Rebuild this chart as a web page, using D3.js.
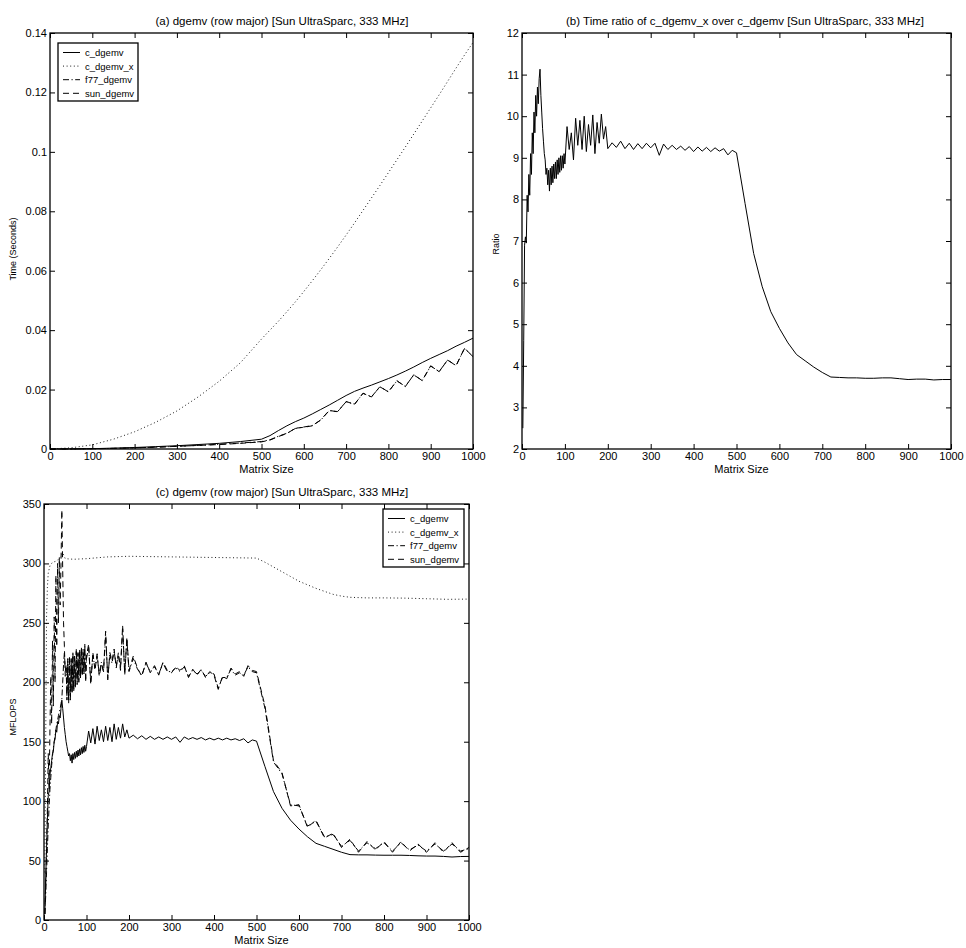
<!DOCTYPE html>
<html>
<head>
<meta charset="utf-8">
<script src="https://cdn.jsdelivr.net/npm/d3@7"></script>
<style>
  body { margin: 0; background: #fff; }
  svg { display: block; font-family: "Liberation Sans", Arial, Helvetica, sans-serif; }
</style>
</head>
<body>
<script>
// ---- data ----
const seriesNames = ["c_dgemv", "c_dgemv_x", "f77_dgemv", "sun_dgemv"];
const xTicks = [0, 100, 200, 300, 400, 500, 600, 700, 800, 900, 1000];
const timeTicks = [0, 0.02, 0.04, 0.06, 0.08, 0.1, 0.12, 0.14];
const timeTickLabels = ["0", "0.02", "0.04", "0.06", "0.08", "0.1", "0.12", "0.14"];
const ratioTicks = [2, 3, 4, 5, 6, 7, 8, 9, 10, 11, 12];
const mflopsTicks = [0, 50, 100, 150, 200, 250, 300, 350];

// panel (a) sizes
const sizesA = [0, 50, 100, 150, 200, 250, 300, 350, 400, 450, 500,
  520, 540, 560, 580, 600, 620, 640, 660, 680, 700, 720, 740, 760, 780, 800,
  820, 840, 860, 880, 900, 920, 940, 960, 980, 1000];
const timeC = [0, 0.00003, 0.0001, 0.0003, 0.0005, 0.0008, 0.0011, 0.0015, 0.0019, 0.0025, 0.0033,
  0.0045, 0.0062, 0.0078, 0.0092, 0.0104, 0.0118, 0.0133, 0.0148, 0.0164, 0.0180,
  0.0194, 0.0205, 0.0215, 0.0226, 0.0237, 0.0249, 0.0262, 0.0276, 0.0291, 0.0305,
  0.0318, 0.0331, 0.0346, 0.0359, 0.0373];
const timeCx = [0, 0.0004, 0.0014, 0.0033, 0.0058, 0.0090, 0.0128, 0.0175, 0.0228, 0.0290, 0.0370,
  0.0400, 0.0430, 0.0462, 0.0495, 0.0530, 0.0566, 0.0603, 0.0641, 0.0680, 0.0720,
  0.0761, 0.0803, 0.0845, 0.0887, 0.0930, 0.0973, 0.1016, 0.1060, 0.1104, 0.1148,
  0.1192, 0.1237, 0.1282, 0.1326, 0.1368];
const timeF77 = [0, 0.00002, 0.0001, 0.0002, 0.0004, 0.0006, 0.0009, 0.0012, 0.0016, 0.0020, 0.0025,
  0.0031, 0.0043, 0.0053, 0.0069, 0.0074, 0.0079, 0.0097, 0.0129, 0.0126, 0.0159,
  0.0151, 0.0187, 0.0176, 0.0209, 0.0193, 0.0229, 0.0211, 0.0249, 0.0231, 0.0279,
  0.0261, 0.0299, 0.0281, 0.0338, 0.0311];
const timeSun = [0, 0.00002, 0.0001, 0.0002, 0.0004, 0.0006, 0.0009, 0.0012, 0.0015, 0.0019, 0.0024,
  0.0030, 0.0042, 0.0052, 0.0070, 0.0073, 0.0078, 0.0098, 0.0130, 0.0125, 0.0160,
  0.0150, 0.0188, 0.0175, 0.0210, 0.0192, 0.0230, 0.0210, 0.0250, 0.0230, 0.0280,
  0.0260, 0.0300, 0.0280, 0.0340, 0.0310];

// panels (b) and (c) sizes
const sizes = [2, 4, 6, 8, 10, 12, 14, 16, 18, 20, 22, 24, 26, 28, 30, 32, 34, 36, 38, 40,
  42, 44, 46, 48, 50, 52, 54, 56, 58, 60, 62, 64, 66, 68, 70, 72, 74, 76, 78, 80,
  82, 84, 86, 88, 90, 92, 94, 96, 98, 100,
  105, 110, 115, 120, 125, 130, 135, 140, 145, 150, 155, 160, 165, 170, 175, 180, 185, 190, 195, 200,
  210, 220, 230, 240, 250, 260, 270, 280, 290, 300, 310, 320, 330, 340, 350, 360, 370, 380, 390, 400,
  410, 420, 430, 440, 450, 460, 470, 480, 490, 500,
  520, 540, 560, 580, 600, 620, 640, 660, 680, 700, 720, 740, 760, 780, 800,
  820, 840, 860, 880, 900, 920, 940, 960, 980, 1000];
const ratio = [2.5, 4.6, 6.9, 7.1, 6.95, 8.1, 7.7, 8.6, 8.1, 9.1, 8.6, 9.6, 9.1, 10.1, 9.6, 10.5, 10.0, 10.7, 10.3, 10.9,
  11.13, 10.5, 10.1, 9.7, 9.4, 9.1, 8.95, 8.6, 8.75, 8.35, 8.7, 8.2, 8.75, 8.35, 8.8, 8.4, 8.85, 8.5, 8.9, 8.5,
  8.95, 8.6, 9.0, 8.65, 9.05, 8.7, 9.05, 8.75, 9.1, 8.85,
  9.75, 9.2, 9.6, 8.95, 9.95, 9.3, 9.9, 9.2, 10.0, 9.15, 9.8, 9.3, 10.03, 9.1, 9.85, 9.35, 10.05, 9.45, 9.75, 9.22,
  9.36, 9.25, 9.40, 9.22, 9.35, 9.20, 9.34, 9.22, 9.35, 9.24, 9.35, 9.06, 9.33, 9.20, 9.30, 9.20, 9.28, 9.18, 9.27, 9.15,
  9.26, 9.16, 9.25, 9.15, 9.24, 9.16, 9.22, 9.07, 9.18, 9.12,
  7.9, 6.7, 5.9, 5.3, 4.9, 4.55, 4.27, 4.12, 3.97, 3.84, 3.73, 3.72, 3.71, 3.71, 3.70,
  3.70, 3.71, 3.71, 3.69, 3.67, 3.68, 3.68, 3.66, 3.67, 3.67];
const mflopsC = [5, 35, 60, 85, 105, 108, 122, 128, 134, 140, 142, 150, 152, 160, 158, 167, 165, 172, 170, 178,
  185, 178, 170, 162, 156, 150, 146, 142, 138, 140, 134, 139, 132, 140, 135, 141, 136, 142, 137, 143,
  138, 144, 139, 145, 140, 146, 141, 147, 142, 146,
  159, 149, 161, 148, 163, 151, 160, 150, 163, 151, 162, 150, 165, 152, 162, 153, 165, 154, 160, 153,
  155.5, 152.5, 155, 152, 154.5, 152, 154, 152, 154, 152, 154, 149.5, 154, 152, 153.5, 152, 153.5, 151.5, 153, 151.5,
  153, 151.5, 153, 151.5, 152.5, 151, 152.5, 149, 151.5, 150.5,
  129, 108, 94, 84, 76.5, 70, 64.5, 62, 59.5, 57, 55, 54.8, 54.8, 54.6, 54.5,
  54.5, 54.5, 54.3, 54, 53.8, 53.8, 53.5, 53, 53.4, 53.5];
const mflopsF77 = [5, 20, 40, 60, 80, 95, 110, 120, 130, 138, 145, 150, 155, 160, 165, 168, 172, 175, 178, 182,
  186, 200, 215, 225, 210, 212, 188, 218, 185, 220, 188, 218, 192, 224, 194, 220, 197, 226, 200, 224,
  202, 226, 205, 228, 207, 226, 208, 230, 203, 220,
  230, 200, 223, 212, 222, 207, 217, 208, 240, 204, 223, 216, 226, 214, 223, 212, 245, 208, 236, 209,
  220, 211, 206, 216, 209, 213, 207, 216, 209, 209, 212, 209, 213, 205, 210, 207, 210, 205, 208, 207,
  195, 204, 204, 211, 206, 208, 206, 213, 209, 208,
  178, 133, 123, 97, 96, 79, 83, 70, 72, 62, 67, 58, 65, 60, 65,
  58, 65, 59, 63, 58, 64, 58, 64, 58, 60];
const mflopsSun = [5, 30, 60, 95, 140, 110, 160, 205, 165, 235, 180, 255, 200, 290, 230, 300, 250, 305, 265, 300,
  345, 295, 250, 230, 205, 215, 185, 220, 182, 222, 185, 220, 190, 225, 192, 222, 195, 228, 198, 225,
  200, 228, 203, 230, 205, 228, 207, 232, 200, 222,
  232, 198, 225, 210, 224, 205, 215, 210, 243, 202, 225, 218, 228, 212, 225, 210, 248, 206, 238, 210,
  222, 212, 205, 217, 208, 214, 206, 217, 210, 208, 213, 210, 214, 204, 211, 206, 211, 204, 209, 206,
  194, 205, 203, 212, 207, 209, 205, 214, 210, 209,
  180, 134, 124, 96, 97, 78, 84, 69, 73, 61, 68, 57, 66, 59, 66,
  57, 66, 58, 64, 57, 65, 57, 65, 57, 61];
// c_dgemv_x is smooth, sampled more coarsely
const sizesX = [2, 4, 6, 8, 10, 14, 20, 30, 40, 44, 50, 70, 100, 150, 200, 300, 400, 500,
  520, 540, 560, 580, 600, 620, 640, 660, 680, 700, 720, 760, 800, 850, 900, 950, 1000];
const mflopsCx = [40, 150, 255, 280, 292, 298, 301, 302, 306, 309, 304, 303.5, 304, 305.5, 306, 305.5, 305, 304.5,
  301, 297, 293, 289, 285, 282, 279, 276.5, 274, 272.5, 271.5, 271, 271, 270.8, 270.3, 269.8, 270];

// ---- drawing ----
const dash = {
  "c_dgemv": null,
  "c_dgemv_x": "1,2.6",
  "f77_dgemv": "6,2.5,1.2,2.5",
  "sun_dgemv": "6,4"
};

const svg = d3.select("body").append("svg")
  .attr("width", 966)
  .attr("height", 948);

function drawPanel(p) {
  let g = svg.append("g").attr("transform", "translate(" + p.left + "," + p.top + ")");

  let x = d3.scaleLinear().domain([0, 1000]).range([0, p.width]);
  let y = d3.scaleLinear().domain(p.yDomain).range([p.height, 0]);

  let fmt = p.yLabels ? (d, i) => p.yLabels[i] : d3.format("d");

  // inward ticks on all four sides, like the original
  g.append("g")
    .attr("transform", "translate(0," + p.height + ")")
    .call(d3.axisBottom(x).tickValues(xTicks).tickFormat(d3.format("d")).tickSizeInner(-5).tickSizeOuter(0).tickPadding(3));
  g.append("g")
    .call(d3.axisTop(x).tickValues(xTicks).tickFormat("").tickSizeInner(-5).tickSizeOuter(0));
  g.append("g")
    .call(d3.axisLeft(y).tickValues(p.yTicks).tickFormat(fmt).tickSizeInner(-5).tickSizeOuter(0).tickPadding(3));
  g.append("g")
    .attr("transform", "translate(" + p.width + ",0)")
    .call(d3.axisRight(y).tickValues(p.yTicks).tickFormat("").tickSizeInner(-5).tickSizeOuter(0));

  g.selectAll(".domain").remove();
  g.selectAll(".tick line").attr("stroke", "#000").attr("stroke-width", 1);
  g.selectAll(".tick text").attr("fill", "#000").style("font-size", "11px");

  p.series.forEach(function (s) {
    let pts = s.x.map((v, i) => [v, s.y[i]]);
    g.append("path")
      .datum(pts)
      .attr("fill", "none")
      .attr("stroke", "#000")
      .attr("stroke-width", s.name == "c_dgemv_x" ? 0.9 : 1)
      .attr("stroke-dasharray", dash[s.name])
      .attr("d", d3.line().x(d => x(d[0])).y(d => y(d[1])));
  });

  g.append("rect")
    .attr("width", p.width).attr("height", p.height)
    .attr("fill", "none").attr("stroke", "#000").attr("stroke-width", 1.3);

  g.append("text")
    .attr("x", p.titleX - p.left).attr("y", -8)
    .attr("text-anchor", "middle")
    .style("font-size", "11.5px")
    .text(p.title);

  g.append("text")
    .attr("x", p.width / 2 + 5).attr("y", p.height + 24)
    .attr("text-anchor", "middle")
    .style("font-size", "11px")
    .text("Matrix Size");

  g.append("text")
    .attr("transform", "translate(" + (p.yLabelX - p.left) + "," + (p.height / 2 + p.yLabelDy) + ") rotate(-90)")
    .attr("text-anchor", "middle")
    .style("font-size", "9px")
    .text(p.yLabel);

  if (p.legend) {
    let lg = g.append("g").attr("transform", "translate(" + p.legend.x + "," + p.legend.y + ")");
    lg.append("rect")
      .attr("width", p.legend.w).attr("height", 58)
      .attr("fill", "#fff").attr("stroke", "#000").attr("stroke-width", 1.3);
    seriesNames.forEach(function (name, i) {
      let ly = 9.5 + i * 13.6;
      lg.append("line")
        .attr("x1", 5).attr("x2", 22).attr("y1", ly).attr("y2", ly)
        .attr("stroke", "#000").attr("stroke-width", name == "c_dgemv_x" ? 0.9 : 1)
        .attr("stroke-dasharray", dash[name]);
      lg.append("text")
        .attr("x", 27).attr("y", ly + 3.5)
        .style("font-size", "9.5px")
        .text(name);
    });
  }
}

drawPanel({
  left: 50, top: 33, width: 423, height: 416,
  yDomain: [0, 0.14], yTicks: timeTicks, yLabels: timeTickLabels,
  title: "(a) dgemv (row major) [Sun UltraSparc, 333 MHz]", titleX: 282,
  yLabel: "Time (Seconds)", yLabelX: 16, yLabelDy: 8,
  legend: { x: 8, y: 10, w: 80 },
  series: [
    { name: "c_dgemv", x: sizesA, y: timeC },
    { name: "c_dgemv_x", x: sizesA, y: timeCx },
    { name: "f77_dgemv", x: sizesA, y: timeF77 },
    { name: "sun_dgemv", x: sizesA, y: timeSun }
  ]
});

drawPanel({
  left: 522, top: 33, width: 429, height: 416,
  yDomain: [2, 12], yTicks: ratioTicks,
  title: "(b) Time ratio of c_dgemv_x over c_dgemv [Sun UltraSparc, 333 MHz]", titleX: 745,
  yLabel: "Ratio", yLabelX: 499, yLabelDy: 3,
  series: [
    { name: "c_dgemv", x: sizes, y: ratio }
  ]
});

drawPanel({
  left: 44, top: 504, width: 425, height: 416,
  yDomain: [0, 350], yTicks: mflopsTicks,
  title: "(c) dgemv (row major) [Sun UltraSparc, 333 MHz]", titleX: 282,
  yLabel: "MFLOPS", yLabelX: 16, yLabelDy: 5,
  legend: { x: 339, y: 5, w: 81 },
  series: [
    { name: "c_dgemv", x: sizes, y: mflopsC },
    { name: "c_dgemv_x", x: sizesX, y: mflopsCx },
    { name: "f77_dgemv", x: sizes, y: mflopsF77 },
    { name: "sun_dgemv", x: sizes, y: mflopsSun }
  ]
});
</script>
</body>
</html>
